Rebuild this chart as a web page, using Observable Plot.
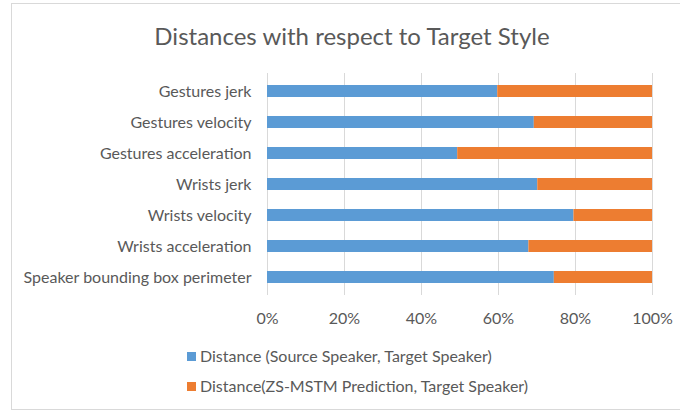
<!DOCTYPE html>
<html>
<head>
<meta charset="utf-8">
<script src="https://cdn.jsdelivr.net/npm/d3@7"></script>
<script src="https://cdn.jsdelivr.net/npm/@observablehq/plot@0.6"></script>
<style>
  html, body { margin: 0; padding: 0; background: #fff; }
  #wrap { position: relative; width: 680px; height: 412px; overflow: hidden; font-family: Lato, "Open Sans", sans-serif; color: #595959; }
  #frame { position: absolute; left: 11px; top: 3px; width: 700px; height: 407px; border: 1px solid #d9d9d9; box-sizing: border-box; }
  #title { position: absolute; left: 12px; width: 680px; top: 21px; text-align: center; font-size: 24px; color: #595959; }
  #chart { position: absolute; left: 0; top: 0; }
  .leg { position: absolute; left: 187px; font-size: 16px; color: #595959; white-space: nowrap; }
  .leg span { display: inline-block; width: 9px; height: 9px; margin-right: 4px; vertical-align: 1px; }
</style>
</head>
<body>
<div id="wrap">
  <div id="frame"></div>
  <div id="chart"></div>
  <div id="title">Distances with respect to Target Style</div>
  <div class="leg" id="leg1" style="top:346px"><span style="background:#5B9BD5"></span>Distance (Source Speaker, Target Speaker)</div>
  <div class="leg" id="leg2" style="top:376px"><span style="background:#ED7D31"></span>Distance(ZS-MSTM Prediction, Target Speaker)</div>
</div>
<script>
const categories = [
  "Gestures jerk",
  "Gestures velocity",
  "Gestures acceleration",
  "Wrists jerk",
  "Wrists velocity",
  "Wrists acceleration",
  "Speaker bounding box perimeter"
];
const seriesNames = [
  "Distance (Source Speaker, Target Speaker)",
  "Distance(ZS-MSTM Prediction, Target Speaker)"
];
const sourceValues = [59.8, 69.3, 49.4, 70.2, 79.6, 67.9, 74.5];
const predictionValues = [40.2, 30.7, 50.6, 29.8, 20.4, 32.1, 25.5];
const xTicks = [0, 0.2, 0.4, 0.6, 0.8, 1.0];
const colors = ["#5B9BD5", "#ED7D31"];

const rows = [];
categories.forEach((c, i) => {
  rows.push({category: c, series: seriesNames[0], value: sourceValues[i]});
  rows.push({category: c, series: seriesNames[1], value: predictionValues[i]});
});

const chart = Plot.plot({
  width: 680,
  height: 330,
  marginTop: 73,
  marginBottom: 35,
  marginLeft: 267,
  marginRight: 28,
  style: { fontFamily: "Lato, 'Open Sans', sans-serif", fontSize: "16px", color: "#595959", background: "transparent" },
  x: { domain: [0, 1], ticks: xTicks, tickFormat: d3.format(".0%"), label: null, tickSize: 0, tickPadding: 17 },
  y: { domain: categories, paddingInner: 0.6, paddingOuter: 0.3, label: null, tickSize: 0, tickPadding: 16 },
  color: { domain: seriesNames, range: colors },
  marks: [
    Plot.gridX(xTicks, { stroke: "#d9d9d9", strokeOpacity: 1, strokeWidth: 1 }),
    Plot.barX(rows, Plot.stackX({ offset: "normalize", order: seriesNames, x: "value", y: "category", fill: "series" })),
    Plot.axisX({ ticks: xTicks, tickFormat: d3.format(".0%"), tickSize: 0, tickPadding: 17, label: null, fill: "#595959" }),
    Plot.axisY({ tickSize: 0, tickPadding: 16, label: null, fill: "#595959" })
  ]
});
document.getElementById("chart").appendChild(chart);
</script>
</body>
</html>
